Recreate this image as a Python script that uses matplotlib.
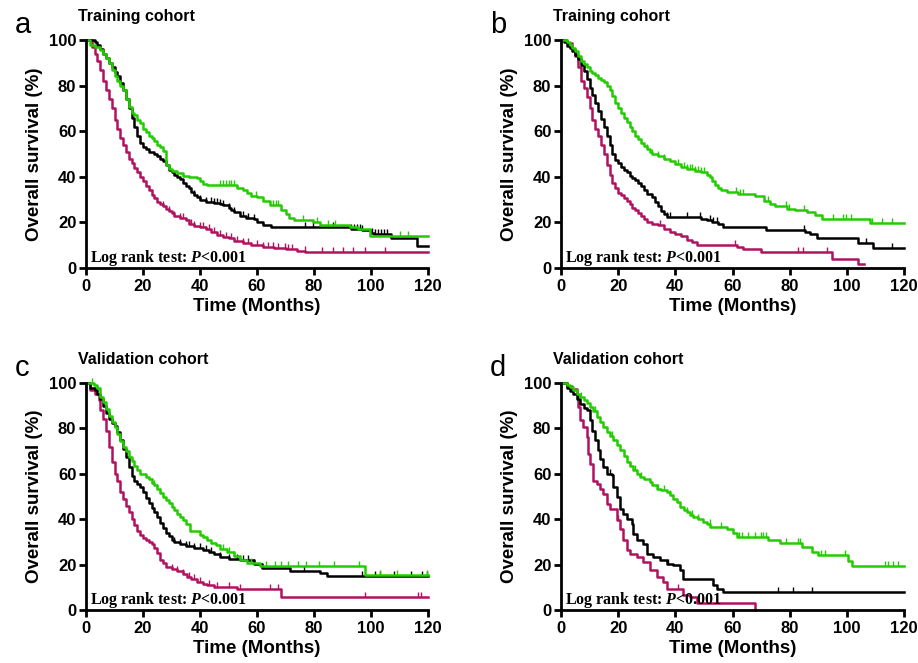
import numpy as np
import matplotlib
matplotlib.use("Agg")
import matplotlib.pyplot as plt
from matplotlib.path import Path

plt.rcParams['font.family'] = ['Liberation Sans', 'DejaVu Sans']
plt.rcParams['font.weight'] = 'bold'
plt.rcParams['mathtext.fontset'] = 'custom'
plt.rcParams['mathtext.it'] = 'Liberation Serif:italic:bold'
plt.rcParams['mathtext.rm'] = 'Liberation Serif:bold'

MAG = '#B0125E'
GRN = '#22CC00'
BLK = '#000000'

# ---- panel a (training cohort) ----
a_mag_t = [0, 2, 3, 4, 5, 6, 7, 8, 9, 10, 11, 12, 13, 14, 15, 16, 17, 18, 19, 20, 21, 22, 23, 24, 25, 26, 27, 28, 29, 30,
           31, 33, 35, 36, 38, 40, 42, 44, 46, 48, 50, 52, 55, 58, 62, 66, 70, 74, 77, 120]
a_mag_s = [100, 97, 94, 91, 87, 82, 78, 74, 70, 65, 61, 57, 54, 51, 48, 46, 44, 42, 40, 38, 36, 34, 32, 30.5, 29, 28, 27, 26, 25, 24,
           23, 22, 21, 19.5, 18.5, 18, 17, 16, 14.5, 13.5, 13, 12, 11, 10, 9.3, 8.7, 8.2, 7.5, 7, 7]
a_mag_c = [27, 29, 31, 33, 34, 36, 37, 38, 40, 41, 43, 45, 47, 49, 51, 53, 55, 57, 60, 62, 64, 65.7, 67.5, 69.8, 71, 72.2,
           76.8, 82.7, 86.8, 90, 93.8, 98, 105]
a_blk_t = [0, 3, 4, 5, 6, 7, 8, 9, 10, 11, 12, 13, 14, 15, 16, 17, 18, 19, 20, 21, 22, 24, 25, 26, 27, 28, 29, 30, 31, 32,
           33, 34, 35, 36, 37, 38, 39, 40, 42, 45, 47, 48, 50, 51, 52, 54, 56, 59, 60, 62, 65, 93, 97, 100, 101, 107, 116, 120]
a_blk_s = [100, 99, 98, 96, 94, 92, 90, 88, 86, 84, 81, 78, 74, 70, 66, 62, 58, 55, 53, 52, 51, 50, 49, 48, 47, 45, 43, 42, 41, 40,
           39, 37.5, 36, 35, 33.5, 32, 31, 30, 29, 28.5, 28, 27.5, 26.5, 25.5, 24.5, 23, 22, 21.5, 20.3, 18.8, 17.8, 17.2, 16.5, 15.5, 15, 13.3, 9.6, 9.6]
a_blk_c = [38, 40, 42, 44, 45, 46, 47, 48, 50, 52, 55, 57, 59, 76.8, 79.7, 86.8, 93, 94, 95, 96, 97, 100.5, 101.5, 102.5,
           103.5, 104.5, 105.5]
a_grn_t = [0, 1.5, 3, 5, 6, 7, 8, 9, 10, 11, 12, 13, 14, 15, 16, 17, 18, 19, 20, 21, 22, 23, 24, 25, 26, 27, 28, 29, 30,
           32, 34, 36, 39, 40, 41, 42.5, 53, 55, 56.5, 58, 60, 62, 64.7, 68.5, 70, 71.3, 73, 79.5, 82, 92.7, 95.6, 99.7, 120]
a_grn_s = [100, 98, 97, 95.5, 94, 92, 90, 87, 84, 82, 80, 78, 74, 70.5, 68, 67, 65, 63.5, 61, 59.5, 58, 57, 55.5, 54, 53, 51.5, 45, 43.5, 42.5,
           41.5, 40.5, 40, 39.3, 38, 37, 36.2, 35, 34, 33, 31.5, 31, 29.5, 27.8, 25.4, 23.5, 22, 21, 20.3, 18.8, 17.8, 17, 14.2, 14.2]
a_grn_c = [47, 48, 49, 50, 51, 52, 59.5, 65.5, 66.5, 67.5, 76.3, 81, 85, 87.5, 110, 113]

# ---- panel b (training cohort) ----
b_mag_t = [0, 2, 4, 5, 6, 7, 8, 9, 10, 11, 12, 13, 14, 15, 16, 17, 18, 19, 20, 21, 22, 23, 24, 25, 26, 27, 28, 29, 30,
           32, 34, 36, 38, 40, 42, 44, 46, 47.5, 61.5, 63.8, 69.8, 94.7, 104, 106]
b_mag_s = [100, 98.5, 96, 93, 88, 82, 79, 75, 70, 65, 61, 58, 54, 50, 45, 41, 37.5, 35, 33, 32, 30.5, 29.5, 28, 26.5, 25.5, 24, 23, 21.5, 20.2,
           19.3, 18.8, 17, 16, 15, 14, 12.5, 11.2, 10, 9.3, 8.3, 7.2, 3.8, 1.7, 1.7]
b_mag_c = [34.6, 60.8, 82.8, 84.8, 92.9]
b_blk_t = [0, 1, 2, 3, 4, 5, 6, 7, 8, 9, 10, 11, 12, 13, 14, 15, 16, 17, 18, 19, 20, 21, 22, 23, 24, 25, 26, 27, 28, 29,
           30, 32, 33, 34, 35, 36, 37, 49, 51, 53, 55, 56.8, 71.7, 85.4, 87, 89.5, 104, 109.2, 120]
b_blk_s = [100, 99, 97.5, 96.5, 95, 93.5, 91.5, 89, 86.5, 83, 79, 76, 72.5, 69, 65.5, 62, 58, 54, 50, 47.5, 46, 44.5, 43, 42, 40.5, 39.3, 38.5, 37.5, 36, 34,
           32.5, 31, 29, 27, 25, 23.5, 22.4, 21.7, 21, 20, 19.3, 17.8, 16.7, 15.8, 15, 13, 10.8, 8.6, 8.6]
b_blk_c = [37, 38.2, 44, 48.6, 52, 53.3, 54.5, 85, 106.6, 115.7]
b_grn_t = [0, 2, 3, 4, 5, 6, 7, 8, 9, 10, 11, 12, 13, 14, 15, 16, 17, 18, 19, 20, 21, 22, 23, 24, 25, 26, 27, 28, 29, 30,
           31, 32, 34, 36, 38, 40, 42, 44, 47, 49, 51, 52, 53, 54, 55, 56, 58, 62, 68, 71, 73, 75, 79, 82, 86, 89, 91.3, 108, 120]
b_grn_s = [100, 99, 98, 96.5, 95, 93, 91, 89.5, 88, 86.5, 85.5, 84.5, 83.5, 82.5, 81.5, 80, 78, 75.5, 72.5, 70, 68, 66, 64, 62, 60, 58, 56.5, 55, 53.5, 52,
           51, 50, 49.2, 48, 47, 45.5, 44.5, 43.5, 42.5, 42, 41, 40, 38, 36.5, 35, 34, 33.4, 32.5, 31.5, 29.5, 28, 27, 26, 25.4, 24.6, 23.2, 21.7, 19.6, 19.6]
b_grn_c = [30, 32, 34, 36, 41, 43, 44, 45, 46, 47, 48, 49, 50, 61.2, 62.5, 63.8, 72.5, 78.7, 79.8, 85, 95, 98.5, 99.8,
           101.6, 108.8, 112.3, 115.8]

# ---- panel c (validation cohort) ----
c_mag_t = [0, 1.5, 3, 4.4, 5, 6, 7, 8, 9, 10, 11, 12, 13, 14, 15, 16, 17, 18, 19, 20, 21, 22, 23, 24, 25, 26, 27, 28,
           30, 32, 34, 35.5, 37, 39, 41, 42.5, 44.8, 53, 68.5, 120]
c_mag_s = [100, 97, 95, 92.4, 88, 84, 79, 72, 65, 60, 57, 52, 49, 46, 43, 40, 37.5, 35, 33, 31.5, 30.7, 30, 29, 27.5, 25, 22, 20.5, 19,
           18, 17.2, 16, 14.5, 13.5, 12.3, 11.5, 10.9, 10.1, 9.2, 5.8, 5.8]
c_mag_c = [30, 32, 34, 36, 38, 40, 43, 46, 50, 54, 64.4, 67.3, 97.9, 116.6, 117.5]
c_blk_t = [0, 1.5, 3, 4, 5, 6, 7, 8, 9, 10, 11, 12, 13, 14, 15, 16, 17, 18, 19, 20, 21, 22, 23, 24, 25, 26, 27, 28, 29, 30,
           31, 33, 35, 38, 41, 43, 45, 47, 50, 54, 59, 61.6, 71.6, 82.1, 84.4, 120]
c_blk_s = [100, 98, 96.8, 95, 93, 90, 87, 84, 82.5, 81, 78.5, 75, 71, 67.5, 63, 59, 57, 55.5, 54, 52, 49.5, 47, 45, 43, 41, 38.5, 36, 34, 32.5, 31,
           30, 29, 28, 27.5, 26.5, 25.5, 24.5, 23.3, 22.6, 21.9, 20.4, 18.4, 17.3, 16.4, 15, 15]
c_blk_c = [31, 33, 35, 36, 38, 40, 42, 44, 47, 50, 53, 55, 57, 59, 61.6, 76.5, 97, 101.5, 103, 108, 114, 118, 119.5]
c_grn_t = [0, 2.7, 4, 5, 6, 7, 8, 9, 10, 11, 12, 13, 14, 15, 16, 17, 18, 19, 21, 22, 23, 24, 25, 26, 27, 28, 29, 30, 31, 32,
           33, 34, 35, 36.5, 40, 41, 42.5, 44, 45.5, 47, 49.5, 51.8, 54, 56.5, 61, 98, 120]
c_grn_s = [100, 99, 98, 94, 91.5, 88.5, 85.5, 83, 80.6, 77.5, 74.5, 72, 70, 67.5, 65.5, 63.5, 61.5, 60, 58.6, 57.5, 56, 55, 53.5, 51.5, 50, 48.5, 47, 45.5, 44, 42.5,
           41, 39.5, 38, 35, 33, 32, 30.7, 29.5, 28.5, 27, 25.6, 24, 21.9, 20.6, 19.6, 15.3, 15.3]
c_grn_c = [2, 23, 24, 25, 26, 48, 50, 52, 54, 58, 63, 66.4, 68.5, 70.8, 74.3, 77.2, 81.9, 87.1, 95.9, 103, 109, 119.5]

# ---- panel d (validation cohort) ----
d_mag_t = [0, 2, 3.7, 5.5, 6, 6.5, 7.8, 9, 9.5, 10.1, 11.3, 12.5, 13.6, 14.8, 16, 17.1, 19.5, 20.6, 21.8, 23,
           24.1, 26.5, 28.8, 31.1, 33.5, 35.8, 37, 42.8, 45, 47.5, 68]
d_mag_s = [100, 98.5, 97.5, 95.3, 89.4, 83.5, 80.6, 76.2, 68.9, 64.5, 57, 55.7, 53.5, 51.2, 46.8, 44.6, 39.5, 35.8, 30.7, 26.3,
           24.8, 23.3, 21.1, 17.5, 14.5, 12.3, 9.4, 6.5, 5.7, 3.0, 0]
d_mag_c = [20, 41]
d_blk_t = [0, 2, 3, 4.3, 5.5, 6.6, 8, 9, 10, 10.7, 11.9, 13, 13.6, 14.8, 16, 17.7, 18.3, 19.5, 20.6, 21.8,
           23, 24.7, 25.3, 26.5, 28.8, 30, 32.3, 34.6, 37, 39.3, 41.6, 42.8, 53.3, 54.5, 56.8, 120]
d_blk_s = [100, 98, 96.5, 95.3, 93, 90.9, 89, 88, 83.5, 79, 74.7, 70.3, 66.7, 63, 60, 59.3, 54.2, 49.8, 44.6, 42.4,
           40.2, 38, 33.6, 30.7, 29.2, 24.8, 23.3, 21.9, 20.4, 19.7, 17.5, 13.8, 10.9, 9.4, 7.9, 7.9]
d_blk_c = [17, 37.5, 76, 81, 87.7]
d_grn_t = [0, 2, 3, 4.3, 5.5, 6.6, 8, 9, 10, 11.3, 12.5, 13.6, 14.8, 16, 17, 18.3, 19.5, 20.6, 22, 23,
           24, 25.3, 26.5, 27.6, 29, 31, 32, 33.5, 35, 37, 38, 39.3, 40.5, 41.6, 43, 44, 45, 46.3, 48, 49.8,
           51, 52.1, 58, 60.3, 61.5, 72.5, 76.6, 84.2, 87.7, 90, 100.5, 101.7, 120]
d_grn_s = [100, 99, 98.2, 97, 95.3, 94, 92.4, 91, 89.4, 87.5, 85, 83, 80.6, 78.5, 76.5, 74.7, 72.5, 70.3, 68, 65.2,
           63.5, 61.5, 60, 58.6, 57.5, 56.4, 55, 53.5, 52.8, 52, 50.5, 49, 47.5, 45.4, 44.2, 43.2, 42, 41, 40, 38.8,
           37.8, 36.6, 35.8, 34, 32.3, 30.8, 29.6, 27.6, 25.7, 24.2, 21.7, 19.4, 19.4]
d_grn_c = [7, 12, 18, 24, 26, 28, 34, 36, 38, 44, 46, 48, 52, 56, 62.4, 63.2, 65.5, 67.7, 70.1, 70.7, 71.6, 78.8,
           82.8, 83.7, 91, 92.2, 99.2, 113.2, 114.5, 116, 118]

panel_letters = ['a', 'b', 'c', 'd']
panel_titles = ['Training cohort', 'Training cohort', 'Validation cohort', 'Validation cohort']
panels = [
    [(a_mag_t, a_mag_s, a_mag_c, MAG), (a_blk_t, a_blk_s, a_blk_c, BLK), (a_grn_t, a_grn_s, a_grn_c, GRN)],
    [(b_mag_t, b_mag_s, b_mag_c, MAG), (b_blk_t, b_blk_s, b_blk_c, BLK), (b_grn_t, b_grn_s, b_grn_c, GRN)],
    [(c_mag_t, c_mag_s, c_mag_c, MAG), (c_blk_t, c_blk_s, c_blk_c, BLK), (c_grn_t, c_grn_s, c_grn_c, GRN)],
    [(d_mag_t, d_mag_s, d_mag_c, MAG), (d_blk_t, d_blk_s, d_blk_c, BLK), (d_grn_t, d_grn_s, d_grn_c, GRN)],
]

W, H = 918, 663
# axes boxes in pixels: left, top, right, bottom
boxes = [(86, 40, 428, 268), (561, 40, 904, 268), (86, 383, 428, 610), (561, 383, 904, 610)]
tick_mark = Path([(0, 0), (0, 1)])

fig = plt.figure(figsize=(W / 100, H / 100), dpi=100)

for i, (l, t, r, b) in enumerate(boxes):
    ax = fig.add_axes([l / W, 1 - b / H, (r - l) / W, (b - t) / H])
    for tt, ss, cc, col in panels[i]:
        tt = np.asarray(tt, float)
        ss = np.asarray(ss, float)
        ax.step(tt, ss, where='post', color=col, lw=1.8, clip_on=False)
        cc = np.asarray(cc, float)
        idx = np.searchsorted(tt, cc, side='right') - 1
        ax.plot(cc, ss[idx], ls='none', marker=tick_mark, ms=7, mew=1.0,
                color=col, clip_on=False)

    ax.set_xlim(0, 120)
    ax.set_ylim(0, 100)
    ax.set_xticks(np.arange(0, 121, 20))
    ax.set_yticks(np.arange(0, 101, 20))
    for side in ['top', 'right']:
        ax.spines[side].set_visible(False)
    for side in ['left', 'bottom']:
        ax.spines[side].set_linewidth(2)
    ax.tick_params(direction='out', length=5, width=2, labelsize=12, pad=2)
    ax.tick_params(axis='x', pad=3)
    ax.set_xlabel('Time (Months)', fontsize=13.5, fontweight='bold', labelpad=3)
    ax.set_ylabel('Overall survival (%)', fontsize=13.5, fontweight='bold', labelpad=4)

    ax.text(1.5, 2.5, r'Log rank test: $\mathit{P}$<0.001', family='Liberation Serif',
            fontweight='bold', fontsize=11.5, va='baseline', ha='left')

    fig.text((l - 8) / W, 1 - (t - 23) / H, panel_titles[i], fontsize=11.5, fontweight='bold',
             va='center', ha='left')
    fig.text((l - 71) / W, 1 - (t - 7) / H, panel_letters[i], fontsize=21, fontweight='normal',
             va='baseline', ha='left')

fig.savefig('out.png', dpi=100)
